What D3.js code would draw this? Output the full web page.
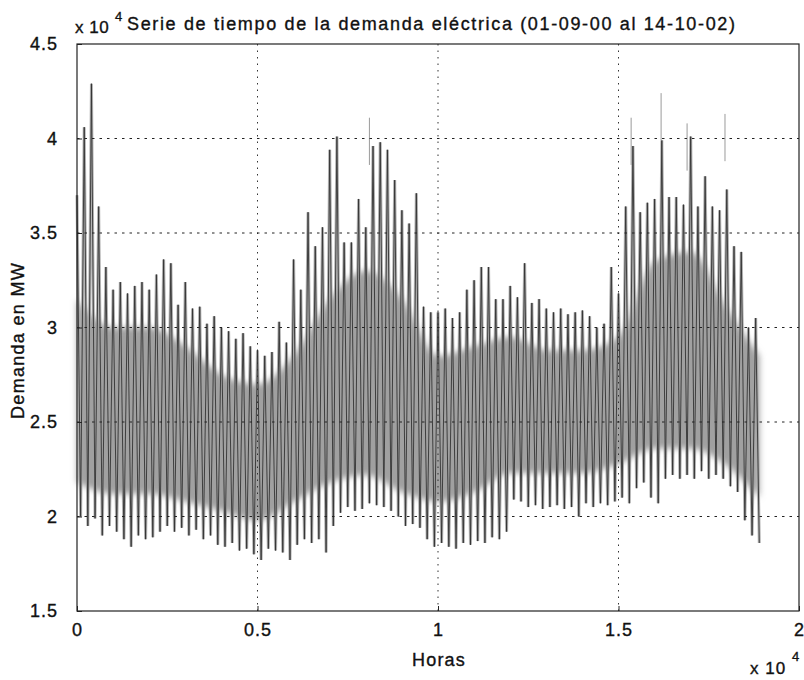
<!DOCTYPE html>
<html>
<head>
<meta charset="utf-8">
<script src="https://cdn.jsdelivr.net/npm/d3@7"></script>
<style>
body { margin: 0; background: #fff; }
text { font-family: "Liberation Sans", Arial, sans-serif; fill: #111; stroke: #111; stroke-width: 0.35px; }
</style>
</head>
<body>
<div id="chart"></div>
<script>
var horas = d3.range(0, 19000, 200);
var maximos = [37000,40600,42900,36400,33200,32000,32400,31800,32200,32400,
  32000,32800,33600,33400,31200,32400,31000,31100,30200,30600,
  30000,29800,29400,29700,29000,28800,28500,28700,30300,29200,
  33600,32000,36100,34300,35300,39400,40100,34500,34500,36800,
  35300,39600,39800,39400,37800,36200,35500,37100,31100,30800,
  30800,31000,30500,30800,32000,32500,33200,33200,31500,31500,
  32200,31600,33400,31300,31500,31000,30800,31000,30700,30800,
  30900,30600,30000,30200,33200,31800,36400,39600,36100,36600,
  36800,39900,36900,36900,36500,40100,36400,38000,36400,36200,
  37300,34300,34000,30000,30500];
var minimos = [20000,19500,19900,19000,19500,19200,18800,18400,19000,18800,
  18900,19200,19500,19200,19400,19000,19300,18800,19000,18500,
  18400,18600,18200,18300,18000,17700,18300,18200,18100,17700,
  18500,18800,18600,18800,18100,19500,20200,20500,20300,20400,
  20700,20600,20500,20300,20000,19500,19600,19400,18800,18400,
  18600,18400,18300,18600,18500,18700,18600,18900,18800,19200,
  20900,20800,20500,20600,20400,20500,20600,20400,20500,20000,
  20700,20500,20700,20600,20800,21000,20700,21500,21800,21000,
  20700,22000,22200,22000,22200,22000,22400,22000,22200,22000,
  21600,21300,19800,19000,18600];

// zona densa de la serie (donde el trazo se ve relleno)
var horasNucleo = [0,1000,2000,3000,4000,5000,6000,7000,8000,9000,10000,
  11000,12000,13000,14000,15000,16000,17000,18000,18900];
var nucleoSup = [31500,30000,30000,29000,27500,27000,28500,31500,33000,31500,28500,
  29000,29500,28800,28800,29500,33500,34000,31000,28500];
var nucleoInf = [21800,21200,21200,20800,20300,19800,20800,21800,22200,21300,20800,
  21300,22300,22300,22300,22800,23600,23600,22700,21000];

// picos aislados (trazo tenue)
var picosHoras = [8100,15350,16180,16900,17950];
var picosValores = [41100,41100,42400,40800,41300];

var xTicks = [0,5000,10000,15000,20000];
var yTicks = [15000,20000,25000,30000,35000,40000,45000];

var margin = {top: 44, right: 5, bottom: 69, left: 77};
var fullWidth = 804, fullHeight = 680;
var width = fullWidth - margin.left - margin.right;
var height = fullHeight - margin.top - margin.bottom;

var svg = d3.select('#chart').append('svg')
  .attr('width', fullWidth)
  .attr('height', fullHeight);

// suaviza el borde de la zona densa
var blur = svg.append('defs').append('filter').attr('id', 'suave')
  .attr('x', '-5%').attr('y', '-10%').attr('width', '110%').attr('height', '120%');
blur.append('feGaussianBlur').attr('stdDeviation', 3);

var g = svg.append('g')
  .attr('transform', 'translate(' + margin.left + ',' + margin.top + ')');

var x = d3.scaleLinear().domain([0, 20000]).range([0, width]);
var y = d3.scaleLinear().domain([15000, 45000]).range([height, 0]);

// serie: alterna pico y valle
var puntos = [];
horas.forEach(function(h, i) {
  puntos.push([h, maximos[i]]);
  puntos.push([h + 100, minimos[i]]);
});
var linea = d3.line()
  .x(function(d) { return x(d[0]); })
  .y(function(d) { return y(d[1]); });

// halo gris de los trazos
g.append('path')
  .datum(puntos)
  .attr('fill', 'none')
  .attr('stroke', '#b4b4b4')
  .attr('stroke-width', 3)
  .attr('d', linea);

// relleno de la zona densa
var nucleo = horasNucleo.map(function(h, i) { return {h: h, s: nucleoSup[i], i: nucleoInf[i]}; });
g.append('path')
  .datum(nucleo)
  .attr('fill', '#a0a0a0')
  .attr('filter', 'url(#suave)')
  .attr('d', d3.area()
    .curve(d3.curveMonotoneX)
    .x(function(d) { return x(d.h); })
    .y0(function(d) { return y(d.i); })
    .y1(function(d) { return y(d.s); }));

g.append('path')
  .datum(puntos)
  .attr('fill', 'none')
  .attr('stroke', '#333')
  .attr('stroke-width', 0.9)
  .attr('d', linea);

g.selectAll('line.pico')
  .data(picosHoras)
  .enter().append('line')
  .attr('class', 'pico')
  .attr('x1', function(d) { return x(d); })
  .attr('x2', function(d) { return x(d); })
  .attr('y1', function(d, i) { return y(picosValores[i]); })
  .attr('y2', function(d, i) { return y(picosValores[i] - 2500); })
  .attr('stroke', '#9a9a9a')
  .attr('stroke-width', 1);

// rejilla punteada
g.selectAll('line.gx')
  .data(xTicks.slice(1, -1))
  .enter().append('line')
  .attr('class', 'gx')
  .attr('x1', function(d) { return x(d); })
  .attr('x2', function(d) { return x(d); })
  .attr('y1', 0).attr('y2', height)
  .attr('stroke', '#333')
  .attr('stroke-width', 1)
  .attr('stroke-dasharray', '1.5,5');

g.selectAll('line.gy')
  .data(yTicks.slice(1, -1))
  .enter().append('line')
  .attr('class', 'gy')
  .attr('x1', 0).attr('x2', width)
  .attr('y1', function(d) { return y(d); })
  .attr('y2', function(d) { return y(d); })
  .attr('stroke', '#222')
  .attr('stroke-width', 1)
  .attr('stroke-dasharray', '2.5,5');

// caja y ejes
g.append('rect')
  .attr('width', width).attr('height', height)
  .attr('fill', 'none').attr('stroke', '#222').attr('stroke-width', 1.2);

var xAxis = d3.axisBottom(x).tickValues(xTicks).tickSizeInner(-5).tickSizeOuter(0)
  .tickPadding(12).tickFormat(function(d) { return d / 10000; });
var yAxis = d3.axisLeft(y).tickValues(yTicks).tickSizeInner(-5).tickSizeOuter(0)
  .tickPadding(19).tickFormat(function(d) { return d / 10000; });

var xa = g.append('g').attr('transform', 'translate(0,' + height + ')').call(xAxis);
var ya = g.append('g').call(yAxis);
[xa, ya].forEach(function(a) {
  a.select('.domain').remove();
  a.selectAll('line').attr('stroke', '#222');
  a.selectAll('text').style('font-size', '18px').style('letter-spacing', '1px').attr('fill', '#111');
});

// textos
svg.append('text')
  .attr('x', 127).attr('y', 30)
  .style('font-size', '18px')
  .style('letter-spacing', '1.65px')
  .text('Serie de tiempo de la demanda eléctrica (01-09-00 al 14-10-02)');

svg.append('text').attr('x', 75).attr('y', 33).style('font-size', '17px').style('letter-spacing', '0.5px').text('x 10');
svg.append('text').attr('x', 115).attr('y', 21).style('font-size', '13px').text('4');

svg.append('text').attr('x', 750).attr('y', 674).style('font-size', '17px').style('letter-spacing', '1px').text('x 10');
svg.append('text').attr('x', 792).attr('y', 661).style('font-size', '13px').text('4');

svg.append('text')
  .attr('x', 439).attr('y', 666)
  .attr('text-anchor', 'middle')
  .style('font-size', '18px')
  .style('letter-spacing', '1.2px')
  .text('Horas');

svg.append('text')
  .attr('transform', 'translate(24,' + (margin.top + height / 2 + 13) + ')rotate(-90)')
  .attr('text-anchor', 'middle')
  .style('font-size', '18px')
  .style('letter-spacing', '1.3px')
  .text('Demanda en MW');
</script>
</body>
</html>
